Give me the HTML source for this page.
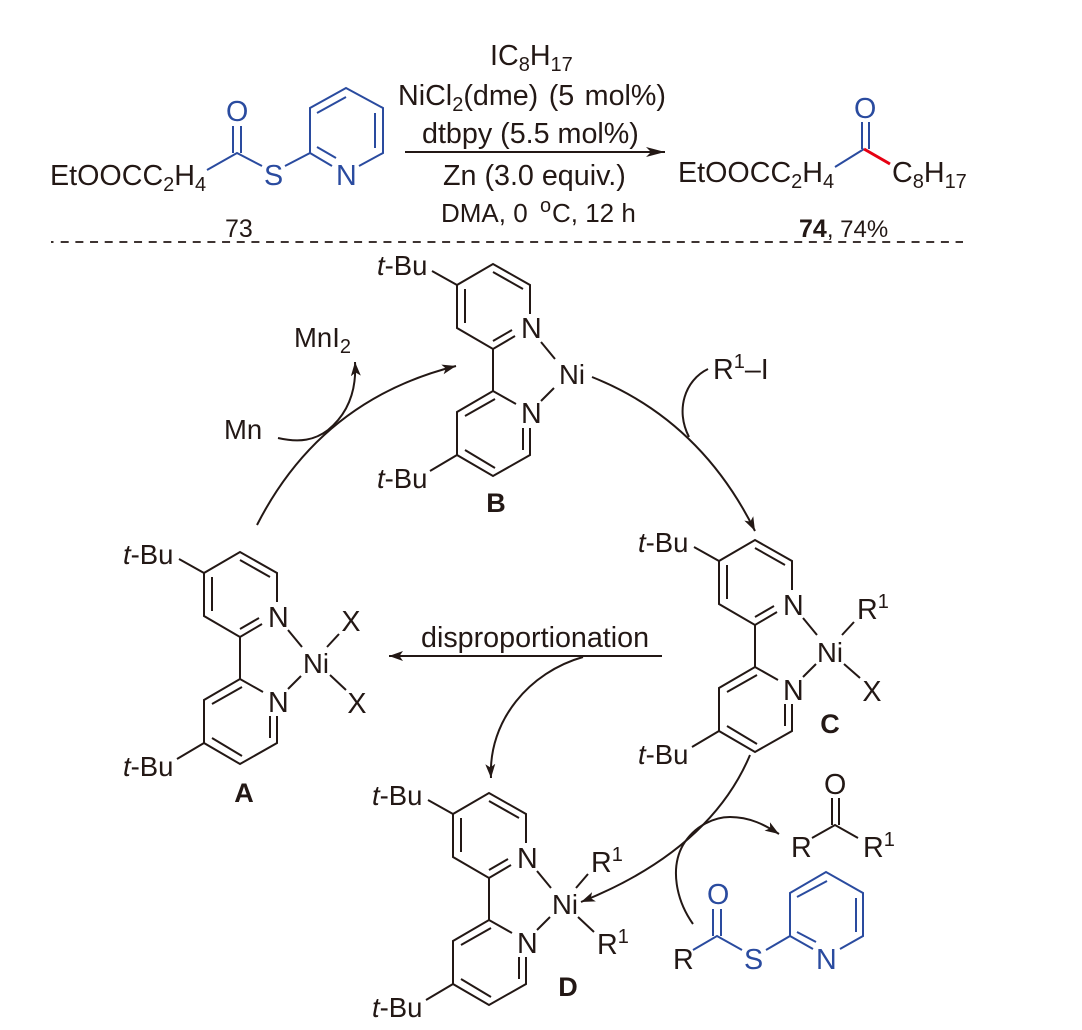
<!DOCTYPE html>
<html>
<head>
<meta charset="utf-8">
<style>
html,body{margin:0;padding:0;background:#fff}
svg{display:block}
text{font-family:"Liberation Sans",Arial,sans-serif;font-size:28.7px;fill:#231815}
.b{fill:#2a4b9f}
.lbl{font-size:25px}
.lb2{font-size:24px}
.cap{font-size:27px;font-weight:bold}
.s{font-size:27.5px}
.r{font-size:26px}
.l{stroke:#231815;stroke-width:2;fill:none;stroke-linecap:butt;stroke-linejoin:miter}
.bl{stroke:#2a4b9f;stroke-width:2;fill:none}
.a{stroke:#231815;stroke-width:2;fill:none}
</style>
</head>
<body>
<svg width="1082" height="1030" viewBox="0 0 1082 1030" xmlns="http://www.w3.org/2000/svg">
<defs>
<marker id="ah" markerUnits="userSpaceOnUse" markerWidth="16" markerHeight="12" refX="14" refY="5" orient="auto">
<path d="M0 0L14 5L0 10L3.5 5Z" fill="#231815"/>
</marker>
<marker id="ahb" markerUnits="userSpaceOnUse" markerWidth="22" markerHeight="12" refX="19" refY="5" orient="auto">
<path d="M0 0L19 5L0 10L5 5Z" fill="#231815"/>
</marker>
<g id="bipy" class="l">
<path d="M37 50V21L0 0L-36 21V64L0 85L22 72"/>
<path d="M0 8L30 25M-28 25V59M0 77L19 66M0 85V127"/>
<path d="M23 140L0 127L-36 148V191L0 212L37 191V164"/>
<path d="M-28 152L2 135M-28 186L2 204M30 164V186"/>
<path d="M48 78L62 95M48 137L61 124"/>
<path d="M-61 7L-36 21M-63 207L-36 191"/>
</g>
</defs>

<!-- top reaction: 73 -->
<text x="50" y="185">EtOOCC<tspan font-size="20" dy="6">2</tspan><tspan dy="-6">H</tspan><tspan font-size="20" dy="6">4</tspan></text>
<path class="bl" d="M207 170L237 153L262 166M285 166L310 153V108L346 88L383 108V153L359 166M310 153L332 166M317 113L346 97M375 113V148M317 147L336 158"/>
<path class="bl" d="M233 153V126M241 153V126"/>
<text class="b" x="226" y="121">O</text>
<text class="b" x="264" y="185">S</text>
<text class="b" x="336" y="185">N</text>
<text class="lbl" x="225" y="237">73</text>

<!-- reagents -->
<text x="490" y="65">IC<tspan font-size="20" dy="6">8</tspan><tspan dy="-6">H</tspan><tspan font-size="20" dy="6">17</tspan></text>
<text x="398" y="105" word-spacing="2.5">NiCl<tspan font-size="20" dy="6">2</tspan><tspan dy="-6">(dme) (5 mol%)</tspan></text>
<text x="422" y="143">dtbpy (5.5 mol%)</text>
<text x="443" y="185">Zn (3.0 equiv.)</text>
<text class="r" x="441" y="222">DMA, 0</text>
<text x="540" y="212" style="font-size:20px">o</text>
<text class="r" x="552" y="222">C, 12 h</text>
<path class="a" d="M405 152H665" marker-end="url(#ahb)"/>

<!-- product 74 -->
<text x="678" y="182">EtOOCC<tspan font-size="20" dy="6">2</tspan><tspan dy="-6">H</tspan><tspan font-size="20" dy="6">4</tspan></text>
<path class="bl" d="M835 167L864 149M862 149V122M869 149V122"/>
<path d="M864 149L890 164" stroke="#e60012" stroke-width="3" fill="none"/>
<text class="b" x="854" y="118">O</text>
<text x="892" y="182">C<tspan font-size="20" dy="6">8</tspan><tspan dy="-6">H</tspan><tspan font-size="20" dy="6">17</tspan></text>
<text class="lb2" x="799" y="237"><tspan font-weight="bold" font-size="25">74</tspan>, 74%</text>

<path d="M51 242H53.5" stroke="#231815" stroke-width="1.8" fill="none"/>
<path d="M60.7 242H963" stroke="#231815" stroke-width="1.8" stroke-dasharray="8 6.67" fill="none"/>

<!-- B -->
<use href="#bipy" x="493" y="264"/>
<text class="s" x="377" y="275"><tspan font-style="italic">t</tspan>-Bu</text>
<text class="s" x="377" y="488"><tspan font-style="italic">t</tspan>-Bu</text>
<text x="521" y="338">N</text>
<text x="521" y="423">N</text>
<text class="s" x="559" y="384">Ni</text>
<text class="cap" x="496" y="512" text-anchor="middle">B</text>

<!-- A -->
<use href="#bipy" x="240" y="552"/>
<text class="s" x="123" y="564"><tspan font-style="italic">t</tspan>-Bu</text>
<text class="s" x="123" y="776"><tspan font-style="italic">t</tspan>-Bu</text>
<text x="268" y="627">N</text>
<text x="268" y="712">N</text>
<text class="s" x="303" y="673">Ni</text>
<path class="l" d="M327 647L339 634M330 675L346 690"/>
<text x="351" y="631" text-anchor="middle">X</text>
<text x="357" y="713" text-anchor="middle">X</text>
<text class="cap" x="244" y="802" text-anchor="middle">A</text>

<!-- C -->
<use href="#bipy" x="755" y="540"/>
<text class="s" x="638" y="552"><tspan font-style="italic">t</tspan>-Bu</text>
<text class="s" x="638" y="764"><tspan font-style="italic">t</tspan>-Bu</text>
<text x="783" y="615">N</text>
<text x="783" y="700">N</text>
<text class="s" x="817" y="662">Ni</text>
<path class="l" d="M842 635L854 622M844 664L860 678"/>
<text x="857" y="619">R<tspan font-size="20" dy="-11">1</tspan></text>
<text x="872" y="701" text-anchor="middle">X</text>
<text class="cap" x="830" y="733" text-anchor="middle">C</text>

<!-- D -->
<use href="#bipy" x="489" y="793"/>
<text class="s" x="372" y="805"><tspan font-style="italic">t</tspan>-Bu</text>
<text class="s" x="372" y="1017"><tspan font-style="italic">t</tspan>-Bu</text>
<text x="517" y="868">N</text>
<text x="517" y="953">N</text>
<text class="s" x="552" y="914">Ni</text>
<path class="l" d="M576 888L588 874M578 917L594 932"/>
<text x="591" y="872">R<tspan font-size="20" dy="-11">1</tspan></text>
<text x="597" y="954">R<tspan font-size="20" dy="-11">1</tspan></text>
<text class="cap" x="568" y="996" text-anchor="middle">D</text>

<!-- cycle arrows -->
<text class="s" x="224" y="439">Mn</text>
<text class="s" x="294" y="347">MnI<tspan font-size="20" dy="6">2</tspan></text>
<path class="a" d="M278 438C300 443 315 440 328 430C345 416 357 395 355 362" marker-end="url(#ah)"/>
<path class="a" d="M257 525C285 470 340 395 456 366" marker-end="url(#ah)"/>
<path class="a" d="M592 377Q700 420 755 531" marker-end="url(#ah)"/>
<path class="a" d="M708 369C685 380 675 410 689 437"/>
<text x="713" y="379">R<tspan font-size="20" dy="-11">1</tspan><tspan dy="11">–I</tspan></text>
<text x="421" y="647">disproportionation</text>
<path class="a" d="M662 656H389" marker-end="url(#ah)"/>
<path class="a" d="M583 657C530 672 488 720 491 778" marker-end="url(#ah)"/>
<path class="a" d="M750 755Q710 850 581 902" marker-end="url(#ah)"/>
<path class="a" d="M693 924C676 900 670 868 683 845C695 825 715 817 730 817C750 817 765 825 779 834" marker-end="url(#ah)"/>

<!-- ketone -->
<text x="791" y="857">R</text>
<path class="l" d="M812 838L835 825L858 838M832 825V798M839 825V798"/>
<text x="824" y="794">O</text>
<text x="863" y="857">R<tspan font-size="20" dy="-11">1</tspan></text>

<!-- thioester -->
<text x="673" y="969">R</text>
<path class="bl" d="M693 950L717 936L742 950M713 936V909M721 936V909M766 950L790 936V893L826 872L863 893V936L840 949M790 936L813 949M797 897L827 881M856 898V932M797 932L816 942"/>
<text class="b" x="707" y="904">O</text>
<text class="b" x="744" y="969">S</text>
<text class="b" x="816" y="969">N</text>
</svg>
</body>
</html>
